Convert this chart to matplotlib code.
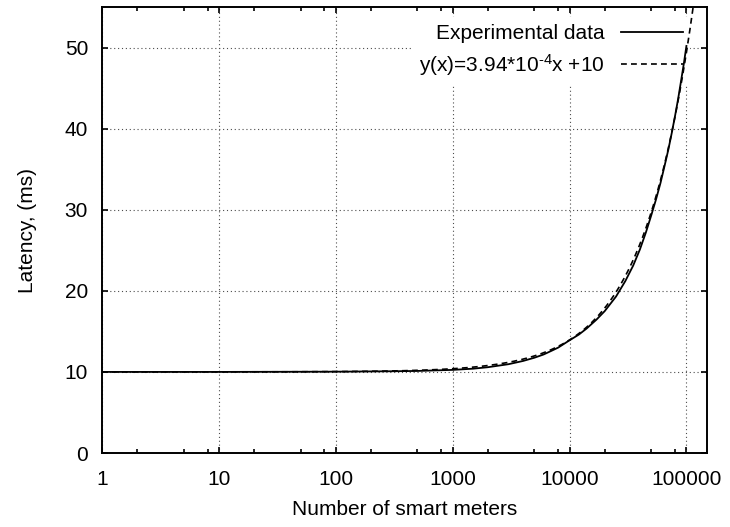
import numpy as np
import matplotlib
matplotlib.use('Agg')
import matplotlib.pyplot as plt
from matplotlib.ticker import FixedLocator, NullFormatter

plt.rcParams['font.family'] = ['Liberation Sans', 'DejaVu Sans']
plt.rcParams['mathtext.fontset'] = 'custom'
plt.rcParams['mathtext.rm'] = 'Liberation Sans'
plt.rcParams['mathtext.it'] = 'Liberation Sans'

# experimental latency vs number of smart meters
meters = [1, 10, 100, 300, 500, 1000, 1500, 2000, 3000, 4000, 5000, 6000, 7000,
          8000, 10000, 12000, 14000, 17000, 20000, 25000, 30000, 35000, 40000,
          45000, 50000, 55000, 60000, 65000, 70000, 75000, 80000, 85000, 90000,
          95000, 100000]
latency = [10.0, 10.0, 10.03, 10.08, 10.12, 10.25, 10.4, 10.58, 10.95, 11.35,
           11.75, 12.15, 12.6, 13.0, 13.9, 14.6, 15.35, 16.45, 17.5, 19.3,
           21.2, 23.1, 25.1, 27.2, 29.3, 31.3, 33.3, 35.4, 37.4, 39.5, 41.6,
           43.7, 45.9, 48.0, 50.2]

# linear fit shown in the key
slope = 3.94e-4
intercept = 10.0
fit_x = np.logspace(0, np.log10(150000), 500)
fit_y = slope * fit_x + intercept

x_major = [1, 10, 100, 1000, 10000, 100000]
x_labels = ['1', '10', '100', '1000', '10000', '100000']
y_major = [0, 10, 20, 30, 40, 50]

fig = plt.figure(figsize=(7.3, 5.27), dpi=100)
ax = fig.add_axes([0.1397, 0.1404, 0.8288, 0.8463])

ax.plot(meters, latency, color='black', lw=1.3, ls='-',
        label='Experimental data', zorder=3)
ax.plot(fit_x, fit_y, color='black', lw=1.2, ls=(0, (3.5, 2.5)),
        label=r'y(x)=3.94*10$^{\text{-4}}$x +10', zorder=3)

ax.set_xscale('log')
ax.set_xlim(1, 150000)
ax.set_ylim(0, 55)

ax.xaxis.set_major_locator(FixedLocator(x_major))
ax.set_xticklabels(x_labels)
minors = [m * d for d in [1, 10, 100, 1000, 10000, 100000] for m in (2, 5, 8)]
ax.xaxis.set_minor_locator(FixedLocator([v for v in minors if v < 150000]))
ax.xaxis.set_minor_formatter(NullFormatter())
ax.set_yticks(y_major)

ax.tick_params(which='both', direction='in', top=True, right=True, width=1.2)
ax.tick_params(which='major', length=4.5, labelsize=15)
ax.tick_params(axis='x', which='major', pad=12)
ax.tick_params(axis='y', which='major', pad=10)
ax.tick_params(which='minor', length=3)

for s in ax.spines.values():
    s.set_linewidth(1.4)

ax.grid(True, which='major', ls=(0, (1, 2.5)), lw=0.8, color='0.3')
ax.set_axisbelow(True)

ax.set_xlabel('Number of smart meters', fontsize=15, labelpad=8)
ax.set_ylabel('Latency, (ms)', fontsize=15, labelpad=20)

leg = ax.legend(loc='upper right', bbox_to_anchor=(0.972, 0.978),
                markerfirst=False, fontsize=15, frameon=True,
                handlelength=2.95, handletextpad=0.8, labelspacing=0.43,
                borderpad=0.35, borderaxespad=0.0, fancybox=False)
leg.get_frame().set_facecolor('white')
leg.get_frame().set_edgecolor('none')
leg.get_frame().set_alpha(1.0)
leg.set_zorder(2)

fig.savefig('out.png', dpi=100)
